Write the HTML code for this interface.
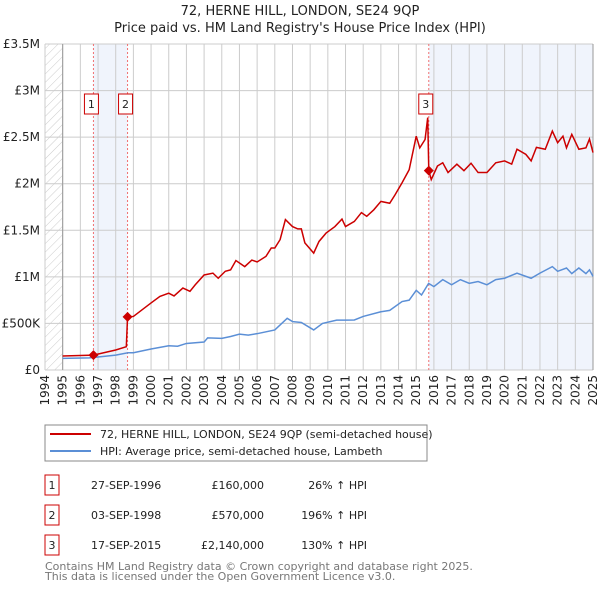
<!DOCTYPE html>
<html><head><meta charset="utf-8"><style>
body{margin:0;background:#fff;}
svg{display:block;font-family:"DejaVu Sans","Liberation Sans",sans-serif;}
</style></head><body>
<svg id="c" width="600" height="590" viewBox="0 0 600 590" xmlns="http://www.w3.org/2000/svg">
<defs><pattern id="hatch" width="6" height="6" patternUnits="userSpaceOnUse" patternTransform="rotate(45)"><line x1="0" y1="0" x2="0" y2="6" stroke="#ccc" stroke-width="1"/></pattern></defs>
<text x="300" y="15" text-anchor="middle" font-size="13" fill="#222">72, HERNE HILL, LONDON, SE24 9QP</text>
<text x="300" y="32" text-anchor="middle" font-size="13" fill="#222">Price paid vs. HM Land Registry's House Price Index (HPI)</text>
<g id="plot"></g>
<rect x="45" y="425" width="382" height="36" fill="#fff" stroke="#888"/>
<line x1="50" y1="434" x2="91" y2="434" stroke="#cc0000" stroke-width="2"/>
<text x="100" y="438" font-size="11" fill="#222">72, HERNE HILL, LONDON, SE24 9QP (semi-detached house)</text>
<line x1="50" y1="451" x2="91" y2="451" stroke="#5b8fd6" stroke-width="2"/>
<text x="100" y="455" font-size="11" fill="#222">HPI: Average price, semi-detached house, Lambeth</text>
<g id="table" font-size="11" fill="#222"></g>
<text x="45" y="570" font-size="11" fill="#777">Contains HM Land Registry data © Crown copyright and database right 2025.</text>
<text x="45" y="580" font-size="11" fill="#777">This data is licensed under the Open Government Licence v3.0.</text>
</svg>
<script>
const yearTicks=[1994,1995,1996,1997,1998,1999,2000,2001,2002,2003,2004,2005,2006,2007,2008,2009,2010,2011,2012,2013,2014,2015,2016,2017,2018,2019,2020,2021,2022,2023,2024,2025];
const valueTicks=[0,500000,1000000,1500000,2000000,2500000,3000000,3500000];
const valueTickLabels=["£0","£500K","£1M","£1.5M","£2M","£2.5M","£3M","£3.5M"];
const redDates=[1995,1996.74,1998,1998.6,1998.67,1999,2000,2000.5,2001,2001.3,2001.8,2002.2,2002.5,2003,2003.5,2003.8,2004.2,2004.5,2004.8,2005.3,2005.7,2006,2006.5,2006.8,2007,2007.3,2007.6,2008,2008.3,2008.5,2008.7,2009.2,2009.5,2009.9,2010.4,2010.8,2011,2011.5,2011.9,2012.2,2012.6,2013,2013.5,2013.8,2014.2,2014.6,2015,2015.2,2015.5,2015.65,2015.71,2015.85,2016.2,2016.5,2016.8,2017.3,2017.7,2018.1,2018.5,2019,2019.5,2020,2020.4,2020.7,2021.2,2021.5,2021.8,2022.3,2022.7,2023,2023.3,2023.5,2023.8,2024.2,2024.6,2024.8,2025];
const redValues=[150000,160000,215000,250000,570000,575000,720000,790000,825000,795000,880000,845000,915000,1020000,1040000,985000,1060000,1075000,1175000,1110000,1180000,1160000,1220000,1310000,1310000,1400000,1615000,1540000,1515000,1515000,1365000,1255000,1380000,1470000,1540000,1620000,1540000,1595000,1690000,1650000,1720000,1810000,1790000,1880000,2010000,2150000,2510000,2385000,2475000,2710000,2140000,2045000,2190000,2225000,2120000,2210000,2140000,2220000,2120000,2120000,2225000,2245000,2210000,2370000,2315000,2245000,2390000,2370000,2565000,2440000,2510000,2385000,2530000,2370000,2385000,2480000,2335000];
const blueDates=[1995,1996.5,1997,1998,1998.7,1999,2000,2001,2001.5,2002,2003,2003.2,2004,2004.5,2005,2005.5,2006,2007,2007.7,2008,2008.5,2009.2,2009.7,2010.5,2011,2011.5,2012,2013,2013.5,2014.2,2014.6,2015,2015.3,2015.7,2016,2016.5,2017,2017.5,2018,2018.5,2019,2019.5,2020,2020.7,2021.5,2022,2022.7,2023,2023.5,2023.8,2024.2,2024.6,2024.8,2025];
const blueValues=[125000,130000,140000,160000,185000,185000,225000,260000,255000,285000,300000,345000,340000,360000,385000,375000,390000,430000,555000,520000,510000,430000,500000,535000,535000,537000,575000,625000,640000,735000,750000,855000,805000,930000,895000,970000,915000,970000,930000,950000,915000,970000,985000,1040000,985000,1040000,1110000,1060000,1095000,1035000,1095000,1035000,1075000,1005000];
const saleLabels=["1","2","3"];
const saleDates=[1996.74,1998.67,2015.71];
const saleValues=[160000,570000,2140000];
const saleDateText=["27-SEP-1996","03-SEP-1998","17-SEP-2015"];
const salePriceText=["£160,000","£570,000","£2,140,000"];
const salePctText=["26% ↑ HPI","196% ↑ HPI","130% ↑ HPI"];

const NS="http://www.w3.org/2000/svg";
const X0=45,X1=593,Y0=370,Y1=44;
const xs=t=>X0+(t-1994)/(2025-1994)*(X1-X0);
const ys=v=>Y0-v/3500000*(Y0-Y1);
const g=document.getElementById('plot');
function mk(tag,at,parent){const e=document.createElementNS(NS,tag);for(const k in at)e.setAttribute(k,at[k]);(parent||g).appendChild(e);return e;}

let e=mk('rect',{x:X0,y:Y1,width:xs(1995)-X0,height:Y0-Y1,fill:'url(#hatch)'});


e=mk('rect',{x:xs(saleDates[0]),y:Y1,width:xs(saleDates[1])-xs(saleDates[0]),height:Y0-Y1,fill:'#f0f4fc'});


e=mk('rect',{x:xs(saleDates[2]),y:Y1,width:X1-xs(saleDates[2]),height:Y0-Y1,fill:'#f0f4fc'});



yearTicks.forEach(t=>{
  const x=xs(t);
  e=mk('line',{x1:x,y1:Y1,x2:x,y2:Y0,stroke:'#ccc','stroke-width':1});
  
  
  e=mk('text',{x:0,y:0,transform:`translate(${x+4},${Y0+5}) rotate(-90)`,'text-anchor':'end','font-size':12,fill:'#222'});
  e.textContent=t;
  
  
});
valueTicks.forEach((v,i)=>{
  const y=ys(v);
  e=mk('line',{x1:X0,y1:y,x2:X1,y2:y,stroke:'#ccc','stroke-width':1});
  
  
  e=mk('text',{x:40,y:y+4,'text-anchor':'end','font-size':12,fill:'#222'});
  e.textContent=valueTickLabels[i];
  
  
});
e=mk('line',{x1:xs(1995),y1:Y1,x2:xs(1995),y2:Y0,stroke:'#999'});


e=mk('line',{x1:X1,y1:Y1,x2:X1,y2:Y0,stroke:'#999'});



saleDates.forEach(d=>{
  e=mk('line',{x1:xs(d),y1:Y1,x2:xs(d),y2:Y0,stroke:'#f07070','stroke-dasharray':'2,2'});
  
  
});

e=mk('polyline',{points:blueDates.map((d,i)=>xs(d)+','+ys(blueValues[i])).join(' '),fill:'none',stroke:'#5b8fd6','stroke-width':1.5});


e=mk('polyline',{points:redDates.map((d,i)=>xs(d)+','+ys(redValues[i])).join(' '),fill:'none',stroke:'#cc0000','stroke-width':1.5});



saleDates.forEach((d,i)=>{
  const x=xs(d),y=ys(saleValues[i]);
  e=mk('polygon',{points:`${x},${y-5} ${x+5},${y} ${x},${y+5} ${x-5},${y}`,fill:'#cc0000'});
  
  
  const by=i<2?94:94;
  e=mk('rect',{x:x-7-(i<2?2:3),y:by,width:14,height:20,fill:'#fff',stroke:'#cc0000'});
  
  
  e=mk('text',{x:x-(i<2?2:3),y:by+14,'text-anchor':'middle','font-size':11,fill:'#222'});
  e.textContent=saleLabels[i];
  
  
});

const tb=document.getElementById('table');
saleLabels.forEach((l,i)=>{
  const y=475+i*30;
  e=mk('rect',{x:45,y:y,width:14,height:20,fill:'#fff',stroke:'#cc0000'},tb);
  
  
  e=mk('text',{x:52,y:y+14,'text-anchor':'middle'},tb);e.textContent=l;
  
  
  e=mk('text',{x:91,y:y+14},tb);e.textContent=saleDateText[i];
  
  
  e=mk('text',{x:264,y:y+14,'text-anchor':'end'},tb);e.textContent=salePriceText[i];
  
  
  e=mk('text',{x:367,y:y+14,'text-anchor':'end'},tb);e.textContent=salePctText[i];
  
  
});
</script>
</body></html>
